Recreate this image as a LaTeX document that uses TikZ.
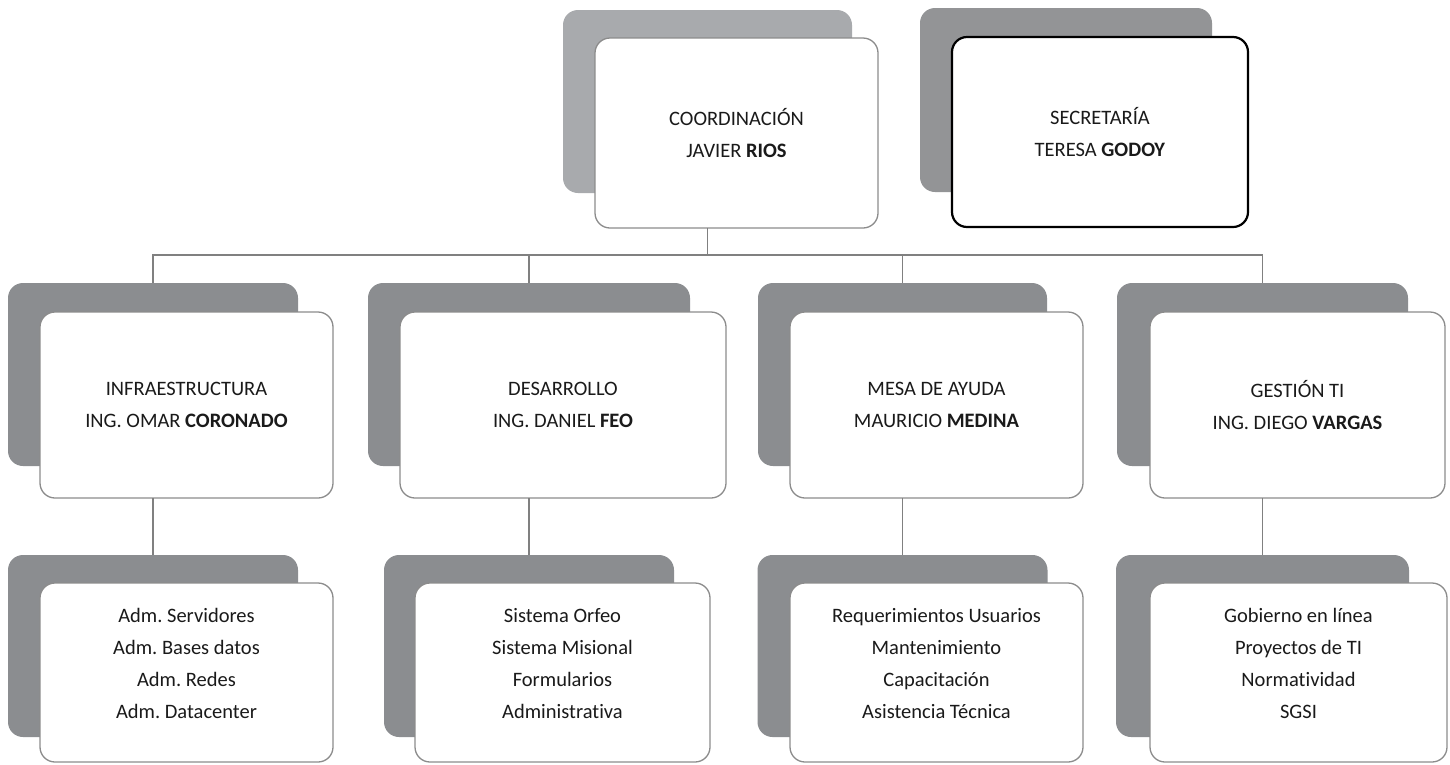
\documentclass[tikz,border=0pt]{standalone}
\usepackage{fontspec}
\setmainfont{Carlito}[Ligatures={NoCommon}]
\frenchspacing
\definecolor{shadowgray}{HTML}{8B8D90}
\definecolor{shadowlight}{HTML}{A8AAAD}
\definecolor{shadowmid}{HTML}{939496}
\definecolor{bordergray}{HTML}{8C8C8C}
\definecolor{linegray}{HTML}{808080}
\definecolor{textcol}{HTML}{1A1A1A}
\begin{document}
\begin{tikzpicture}[x=1pt,y=-1pt,
  shad/.style={fill=shadowgray, rounded corners=15pt, inner sep=0pt, outer sep=0pt},
  front/.style={fill=white, draw=bordergray, line width=1.3pt, rounded corners=15pt,
    inner sep=0pt, outer sep=0pt, align=center, text=textcol,
    font=\fontsize{20.5}{32}\selectfont},
  txt/.style={inner sep=0pt, align=center, text=textcol, yshift=9pt,
    font=\fontsize{20.5}{32}\selectfont},
  conn/.style={draw=linegray, line width=1.3pt}]
\useasboundingbox[fill=white] (0,0) rectangle (1450,764);
% top row
\node[shad, fill=shadowlight, minimum width=289pt, minimum height=183pt] (coordS) at (707.5,101.5) {};
\node[front, minimum width=283pt, minimum height=190pt] (coordF) at (736.5,133) {COORDINACIÓN\\JAVIER \textbf{RIOS}};
\node[shad, fill=shadowmid, minimum width=292pt, minimum height=184pt] (secS) at (1066,100) {};
\node[front, draw=black, line width=2.2pt, minimum width=296pt, minimum height=190pt] (secF) at (1100,132) {SECRETARÍA\\TERESA \textbf{GODOY}};
% bus
\coordinate (bus) at (708,255);
% row 2
\node[shad, minimum width=290pt, minimum height=183pt] (infraS) at (153,374.5) {};
\node[front, minimum width=293pt, minimum height=186pt] (infraF) at (186.5,405) {INFRAESTRUCTURA\\ING. OMAR \textbf{CORONADO}};
\node[shad, minimum width=322pt, minimum height=183pt] (desS) at (529,374.5) {};
\node[front, minimum width=326pt, minimum height=186pt] (desF) at (563,405) {DESARROLLO\\ING. DANIEL \textbf{FEO}};
\node[shad, minimum width=289pt, minimum height=183pt] (mesaS) at (902.5,374.5) {};
\node[front, minimum width=293pt, minimum height=186pt] (mesaF) at (936.5,405) {MESA DE AYUDA\\MAURICIO \textbf{MEDINA}};
\node[shad, minimum width=291pt, minimum height=183pt] (gestS) at (1262.5,374.5) {};
\node[front, minimum width=295pt, minimum height=186pt] (gestF) at (1297.5,405) {GESTIÓN TI\\ING. DIEGO \textbf{VARGAS}};
% row 3
\node[shad, minimum width=290pt, minimum height=182pt] (infraLS) at (153,646) {};
\node[front, minimum width=293pt, minimum height=179pt] (infraLF) at (186.5,672.5) {};
\node[txt] (infraLT) at (infraLF.center) {Adm. Servidores\\Adm. Bases datos\\Adm. Redes\\Adm. Datacenter};
\node[shad, minimum width=290pt, minimum height=182pt] (desLS) at (529,646) {};
\node[front, minimum width=295pt, minimum height=179pt] (desLF) at (562.5,672.5) {};
\node[txt] (desLT) at (desLF.center) {Sistema Orfeo\\Sistema Misional\\Formularios\\Administrativa};
\node[shad, minimum width=290pt, minimum height=182pt] (mesaLS) at (902.5,646) {};
\node[front, minimum width=293pt, minimum height=179pt] (mesaLF) at (936.5,672.5) {};
\node[txt] (mesaLT) at (mesaLF.center) {Requerimientos Usuarios\\Mantenimiento\\Capacitación\\Asistencia Técnica};
\node[shad, minimum width=293pt, minimum height=182pt] (gestLS) at (1262.5,646) {};
\node[front, minimum width=297pt, minimum height=179pt] (gestLF) at (1298.5,672.5) {};
\node[txt] (gestLT) at (gestLF.center) {Gobierno en línea\\Proyectos de TI\\Normatividad\\SGSI};
% connectors
\draw[conn] (coordS.south |- coordF.south) -- (coordS.south |- bus);
\draw[conn] (infraS.north) -- (infraS.north |- bus) -- (gestS.north |- bus) -- (gestS.north);
\draw[conn] (desS.north |- bus) -- (desS.north);
\draw[conn] (mesaS.north |- bus) -- (mesaS.north);
\draw[conn] (infraS.south |- infraF.south) -- (infraLS.north);
\draw[conn] (desS.south |- desF.south) -- (desLS.north);
\draw[conn] (mesaS.south |- mesaF.south) -- (mesaLS.north);
\draw[conn] (gestS.south |- gestF.south) -- (gestLS.north);
\end{tikzpicture}
\end{document}
